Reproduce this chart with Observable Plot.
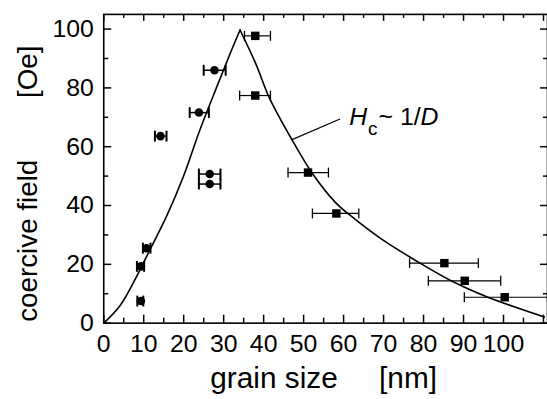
<!DOCTYPE html>
<html>
<head>
<meta charset="utf-8">
<script src="https://cdn.jsdelivr.net/npm/d3@7"></script>
<script src="https://cdn.jsdelivr.net/npm/@observablehq/plot@0.6"></script>
<style>
  html, body { margin: 0; padding: 0; background: #fff; overflow: hidden; }
  #chart { width: 547px; height: 399px; overflow: hidden; }
</style>
</head>
<body>
<div id="chart"></div>
<script>
// ---- data ----
// circles (small grain sizes)
const circleX   = [27.7, 23.8, 14.2, 26.5, 26.5, 10.7, 9.3, 9.3];
const circleY   = [86.0, 71.6, 63.6, 50.7, 47.3, 25.5, 19.3, 7.5];
const circleXLo = [25.0, 21.5, 12.8, 23.8, 23.8, 9.8, 8.3, 8.4];
const circleXHi = [30.5, 26.3, 15.7, 29.2, 29.2, 11.7, 10.1, 9.9];

// squares (large grain sizes)
const squareX   = [37.9, 37.9, 51.1, 58.2, 85.2, 90.3, 100.3];
const squareY   = [97.7, 77.4, 51.2, 37.3, 20.4, 14.4, 8.8];
const squareXLo = [35.2, 34.0, 46.1, 52.2, 76.5, 81.2, 90.2];
const squareXHi = [41.7, 41.7, 56.2, 63.8, 93.7, 99.3, 111.0];

// model curve: rising branch and Hc ~ 1/D branch
const riseX = [0, 4.1, 8.3, 11.6, 15.7, 19.9, 24.0, 28.2, 31.5, 34.1];
const riseY = [0, 6.0, 16.1, 25.1, 36.3, 49.8, 65.5, 80.1, 91.3, 99.7];
const fallX = [34.1, 38.1, 41.4, 47.2, 52.2, 58.0, 63.0, 69.6, 77.9, 86.9, 96.1, 110.2];
const fallY = [99.7, 88.0, 76.7, 62.1, 50.9, 41.0, 35.2, 28.5, 21.4, 14.4, 8.8, 2.1];

// annotation
const annotParts = ["H", "c", "~ 1/", "D"];
const annotX = [61.4];
const annotY = [67.4];
const leaderX = [47.1, 59.1];
const leaderY = [62.4, 69.4];

// ticks and labels
const xTickLabels = [0, 10, 20, 30, 40, 50, 60, 70, 80, 90, 100];
const yTickLabels = [0, 20, 40, 60, 80, 100];
const xMajor = [0, 10, 20, 30, 40, 50, 60, 70, 80, 90, 100, 110];
const xMinor = [5, 15, 25, 35, 45, 55, 65, 75, 85, 95, 105];
const yMajor = [0, 20, 40, 60, 80, 100];
const yMinor = [10, 30, 50, 70, 90];
const xTitle = "grain size\u00a0\u00a0\u00a0\u00a0\u00a0[nm]";
const yTitle = "coercive field\u00a0\u00a0\u00a0\u00a0\u00a0\u00a0\u00a0\u00a0[Oe]";

// ---- build tables ----
const circles = circleX.map((x, i) => ({x, y: circleY[i], lo: circleXLo[i], hi: circleXHi[i]}));
const squares = squareX.map((x, i) => ({x, y: squareY[i], lo: squareXLo[i], hi: squareXHi[i]}));
const curve = [
  ...riseX.map((x, i) => ({x, y: riseY[i], branch: "rise"})),
  ...fallX.map((x, i) => ({x, y: fallY[i], branch: "fall"}))
];
const annot = annotX.map((x, i) => ({x, y: annotY[i], text: annotParts.join("")}));
const leader = [{x1: leaderX[0], y1: leaderY[0], x2: leaderX[1], y2: leaderY[1]}];

const W = 551, H = 399, mL = 104, mR = 0, mT = 14, mB = 74;
const innerH = H - mT - mB, innerW = W - mL - mR;

const capSymbol = {
  draw(context, size) {
    const r = Math.sqrt(size / Math.PI);
    context.moveTo(0, -r);
    context.lineTo(0, r);
  }
};

const chart = Plot.plot({
  width: W, height: H,
  marginLeft: mL, marginRight: mR, marginTop: mT, marginBottom: mB,
  x: {domain: [0, 111]},
  y: {domain: [0, 105]},
  style: {fontFamily: "'Liberation Sans', Arial, Helvetica, sans-serif", background: "#fff", color: "#000"},
  marks: [
    // tick labels
    Plot.axisX(xTickLabels, {anchor: "bottom", tickSize: 0, tickPadding: 11, fontSize: 25, label: null, tickFormat: d => String(d)}),
    Plot.axisY(yTickLabels, {anchor: "left", tickSize: 0, tickPadding: 10, fontSize: 25, label: null, tickFormat: d => String(d)}),
    // inward ticks: bottom, top, left, right
    Plot.tickX(xMajor, {x: d => d, insetTop: innerH - 8, stroke: "#000", strokeWidth: 1.5}),
    Plot.tickX(xMinor, {x: d => d, insetTop: innerH - 5, stroke: "#000", strokeWidth: 1.5}),
    Plot.tickX(xMajor, {x: d => d, insetBottom: innerH - 7, stroke: "#000", strokeWidth: 1.5}),
    Plot.tickX(xMinor, {x: d => d, insetBottom: innerH - 4, stroke: "#000", strokeWidth: 1.5}),
    Plot.tickY(yMajor, {y: d => d, insetRight: innerW - 8, stroke: "#000", strokeWidth: 1.5}),
    Plot.tickY(yMinor, {y: d => d, insetRight: innerW - 5, stroke: "#000", strokeWidth: 1.5}),
    Plot.tickY(yMajor, {y: d => d, insetLeft: innerW - 7, stroke: "#000", strokeWidth: 1.5}),
    Plot.tickY(yMinor, {y: d => d, insetLeft: innerW - 4, stroke: "#000", strokeWidth: 1.5}),
    Plot.frame({stroke: "#000", strokeWidth: 1.6}),
    // curve
    Plot.line(curve, {x: "x", y: "y", z: "branch", curve: "catmull-rom", stroke: "#000", strokeWidth: 1.6}),
    // error bars
    Plot.ruleY(circles, {y: "y", x1: "lo", x2: "hi", stroke: "#000", strokeWidth: 1.5}),
    Plot.dot(circles, {x: "lo", y: "y", symbol: capSymbol, r: 5.5, stroke: "#000", fill: "none", strokeWidth: 2}),
    Plot.dot(circles, {x: "hi", y: "y", symbol: capSymbol, r: 5.5, stroke: "#000", fill: "none", strokeWidth: 2}),
    Plot.ruleY(squares, {y: "y", x1: "lo", x2: "hi", stroke: "#000", strokeWidth: 1.2}),
    Plot.dot(squares, {x: "lo", y: "y", symbol: capSymbol, r: 5, stroke: "#000", fill: "none", strokeWidth: 1.3}),
    Plot.dot(squares, {x: "hi", y: "y", symbol: capSymbol, r: 5, stroke: "#000", fill: "none", strokeWidth: 1.3}),
    // markers
    Plot.dot(circles, {x: "x", y: "y", symbol: "circle", r: 4.3, fill: "#000", stroke: "none"}),
    Plot.dot(squares, {x: "x", y: "y", symbol: "square", r: 4.8, fill: "#000", stroke: "none"}),
    // annotation
    Plot.link(leader, {x1: "x1", y1: "y1", x2: "x2", y2: "y2", stroke: "#000", strokeWidth: 1.2}),
    Plot.text(annot, {x: "x", y: "y", text: "text", textAnchor: "start", lineAnchor: "bottom", fontSize: 25, fill: "#000"}),
    // axis titles
    Plot.text([xTitle], {text: d => d, frameAnchor: "bottom", textAnchor: "middle", dx: -2, dy: 65.5, lineAnchor: "bottom", fontSize: 30, fill: "#000"}),
    Plot.text([yTitle], {text: d => d, frameAnchor: "left", textAnchor: "middle", dx: -67, dy: 15, rotate: -90, lineAnchor: "bottom", fontSize: 28, fill: "#000"})
  ]
});

// format the annotation with italic H and D and a subscript c
d3.select(chart).selectAll("text").filter(function () { return this.textContent === annotParts.join(""); })
  .each(function () {
    const t = d3.select(this);
    t.text(null);
    t.append("tspan").attr("font-style", "italic").text(annotParts[0]);
    t.append("tspan").attr("font-size", 19).attr("dy", 10).attr("dx", 1).text(annotParts[1]);
    t.append("tspan").attr("dy", -10).attr("dx", 1).text(annotParts[2]);
    t.append("tspan").attr("font-style", "italic").text(annotParts[3]);
  });

document.getElementById("chart").appendChild(chart);
</script>
</body>
</html>
